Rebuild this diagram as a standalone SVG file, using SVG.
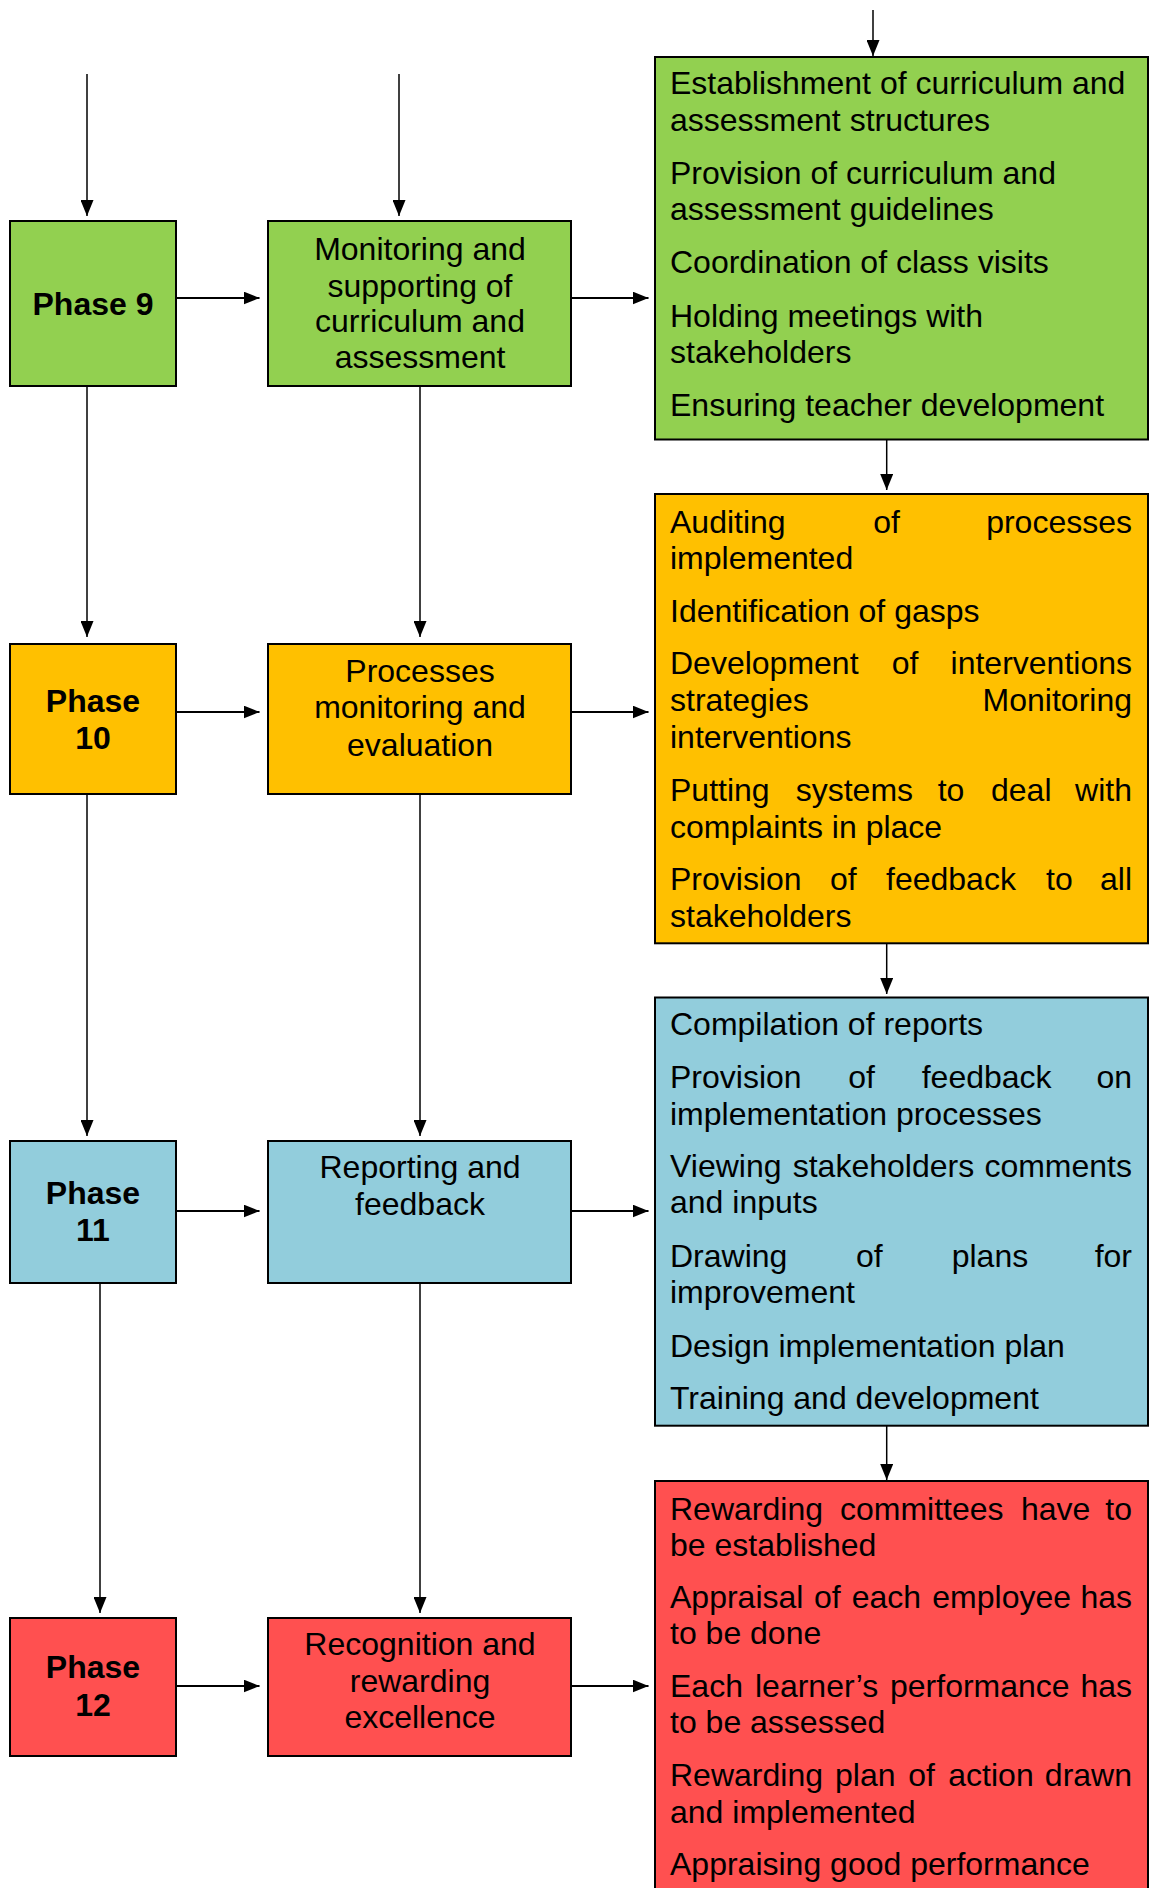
<svg xmlns="http://www.w3.org/2000/svg" width="1149" height="1888" viewBox="0 0 1149 1888">
<style>
.t{font-family:"Liberation Sans",Arial,sans-serif;font-size:32px;fill:#000}
.b{font-weight:bold}
.c{text-anchor:middle}
.e{text-anchor:end}
.box{stroke:#000;stroke-width:2}
.g{fill:#92D050}.o{fill:#FFC000}.bl{fill:#92CDDC}.r{fill:#FF5050}
.v{stroke:#000;stroke-width:1.5;fill:none;marker-end:url(#ah)}
.h{stroke:#000;stroke-width:2.2;fill:none;marker-end:url(#ah)}
</style>
<defs>
<marker id="ah" markerUnits="userSpaceOnUse" markerWidth="16" markerHeight="13" refX="16" refY="6.5" orient="auto">
<path d="M0,0 L16,6.5 L0,13 z" fill="#000"/>
</marker>
</defs>
<rect width="1149" height="1888" fill="#fff"/>
<g id="connectors">
<line class="v" x1="87" y1="74" x2="87" y2="216"/>
<line class="v" x1="399" y1="74" x2="399" y2="216"/>
<line class="v" x1="873" y1="10" x2="873" y2="56"/>
<line class="h" x1="176" y1="298" x2="259.5" y2="298"/>
<line class="h" x1="569" y1="298" x2="648.5" y2="298"/>
<line class="v" x1="87" y1="386" x2="87" y2="637"/>
<line class="v" x1="420" y1="386" x2="420" y2="637"/>
<line class="v" x1="886.7" y1="440" x2="886.7" y2="490"/>
<line class="h" x1="176" y1="712" x2="259.5" y2="712"/>
<line class="h" x1="569" y1="712" x2="648.5" y2="712"/>
<line class="v" x1="87" y1="794" x2="87" y2="1136"/>
<line class="v" x1="420" y1="794" x2="420" y2="1136"/>
<line class="v" x1="886.7" y1="944" x2="886.7" y2="994"/>
<line class="h" x1="176" y1="1211" x2="259.5" y2="1211"/>
<line class="h" x1="569" y1="1211" x2="648.5" y2="1211"/>
<line class="v" x1="100" y1="1283" x2="100" y2="1613"/>
<line class="v" x1="420" y1="1283" x2="420" y2="1613"/>
<line class="v" x1="886.7" y1="1426" x2="886.7" y2="1480"/>
<line class="h" x1="176" y1="1686" x2="259.5" y2="1686"/>
<line class="h" x1="569" y1="1686" x2="648.5" y2="1686"/>
</g>
<g id="phase9">
<rect class="box g" x="10" y="221" width="166" height="165"/>
<text class="t b c" x="93" y="315">Phase 9</text>
</g>
<g id="monitoring">
<rect class="box g" x="268" y="221" width="303" height="165"/>
<text class="t c" x="420" y="260">Monitoring and</text>
<text class="t c" x="420" y="296.5">supporting of</text>
<text class="t c" x="420" y="332">curriculum and</text>
<text class="t c" x="420" y="368.3">assessment</text>
</g>
<g id="tasks9">
<rect class="box g" x="655" y="57" width="493" height="382.5"/>
<text class="t" x="670" y="94.3">Establishment of curriculum and</text>
<text class="t" x="670" y="130.7">assessment structures</text>
<text class="t" x="670" y="184.3">Provision of curriculum and</text>
<text class="t" x="670" y="220">assessment guidelines</text>
<text class="t" x="670" y="272.7">Coordination of class visits</text>
<text class="t" x="670" y="326.7">Holding meetings with</text>
<text class="t" x="670" y="362.7">stakeholders</text>
<text class="t" x="670" y="416">Ensuring teacher development</text>
</g>
<g id="phase10">
<rect class="box o" x="10" y="644" width="166" height="150"/>
<text class="t b c" x="93" y="711.7">Phase</text>
<text class="t b c" x="93" y="749">10</text>
</g>
<g id="processes">
<rect class="box o" x="268" y="644" width="303" height="150"/>
<text class="t c" x="420" y="681.7">Processes</text>
<text class="t c" x="420" y="718.3">monitoring and</text>
<text class="t c" x="420" y="756">evaluation</text>
</g>
<g id="tasks10">
<rect class="box o" x="655" y="494" width="493" height="449.3"/>
<text class="t" x="670" y="533.3">Auditing</text>
<text class="t" x="873.3" y="533.3">of</text>
<text class="t e" x="1132" y="533.3">processes</text>
<text class="t" x="670" y="569.3">implemented</text>
<text class="t" x="670" y="621.7">Identification of gasps</text>
<text class="t" x="670" y="674.3">Development</text>
<text class="t" x="891.7" y="674.3">of</text>
<text class="t e" x="1132" y="674.3">interventions</text>
<text class="t" x="670" y="711">strategies</text>
<text class="t e" x="1132" y="711">Monitoring</text>
<text class="t" x="670" y="748.3">interventions</text>
<text class="t" x="670" y="800.7">Putting</text>
<text class="t" x="795.7" y="800.7">systems</text>
<text class="t" x="937.7" y="800.7">to</text>
<text class="t" x="991" y="800.7">deal</text>
<text class="t e" x="1132" y="800.7">with</text>
<text class="t" x="670" y="837.7">complaints in place</text>
<text class="t" x="670" y="890">Provision</text>
<text class="t" x="830" y="890">of</text>
<text class="t" x="886" y="890">feedback</text>
<text class="t" x="1046" y="890">to</text>
<text class="t e" x="1132" y="890">all</text>
<text class="t" x="670" y="926.7">stakeholders</text>
</g>
<g id="phase11">
<rect class="box bl" x="10" y="1141" width="166" height="142"/>
<text class="t b c" x="93" y="1204">Phase</text>
<text class="t b c" x="93" y="1240.7">11</text>
</g>
<g id="reporting">
<rect class="box bl" x="268" y="1141" width="303" height="142"/>
<text class="t c" x="420" y="1178.3">Reporting and</text>
<text class="t c" x="420" y="1215">feedback</text>
</g>
<g id="tasks11">
<rect class="box bl" x="655" y="997.5" width="493" height="428.2"/>
<text class="t" x="670" y="1035">Compilation of reports</text>
<text class="t" x="670" y="1088.3">Provision</text>
<text class="t" x="848.3" y="1088.3">of</text>
<text class="t" x="921.7" y="1088.3">feedback</text>
<text class="t e" x="1132" y="1088.3">on</text>
<text class="t" x="670" y="1125">implementation processes</text>
<text class="t" x="670" y="1177.3">Viewing</text>
<text class="t" x="792.7" y="1177.3">stakeholders</text>
<text class="t e" x="1132" y="1177.3">comments</text>
<text class="t" x="670" y="1213.3">and inputs</text>
<text class="t" x="670" y="1266.7">Drawing</text>
<text class="t" x="856" y="1266.7">of</text>
<text class="t" x="951.7" y="1266.7">plans</text>
<text class="t e" x="1132" y="1266.7">for</text>
<text class="t" x="670" y="1303.3">improvement</text>
<text class="t" x="670" y="1356.7">Design implementation plan</text>
<text class="t" x="670" y="1409">Training and development</text>
</g>
<g id="phase12">
<rect class="box r" x="10" y="1618" width="166" height="138"/>
<text class="t b c" x="93" y="1678.3">Phase</text>
<text class="t b c" x="93" y="1715.7">12</text>
</g>
<g id="recognition">
<rect class="box r" x="268" y="1618" width="303" height="138"/>
<text class="t c" x="420" y="1655">Recognition and</text>
<text class="t c" x="420" y="1691.7">rewarding</text>
<text class="t c" x="420" y="1728.3">excellence</text>
</g>
<g id="tasks12">
<rect class="box r" x="655" y="1481" width="493" height="430"/>
<text class="t" x="670" y="1520">Rewarding</text>
<text class="t" x="840" y="1520">committees</text>
<text class="t" x="1021" y="1520">have</text>
<text class="t e" x="1132" y="1520">to</text>
<text class="t" x="670" y="1555.7">be established</text>
<text class="t" x="670" y="1608.3">Appraisal</text>
<text class="t" x="814" y="1608.3">of</text>
<text class="t" x="851.7" y="1608.3">each</text>
<text class="t" x="932.3" y="1608.3">employee</text>
<text class="t e" x="1132" y="1608.3">has</text>
<text class="t" x="670" y="1644.3">to be done</text>
<text class="t" x="670" y="1697.3">Each</text>
<text class="t" x="755" y="1697.3">learner’s</text>
<text class="t" x="890" y="1697.3">performance</text>
<text class="t e" x="1132" y="1697.3">has</text>
<text class="t" x="670" y="1733.3">to be assessed</text>
<text class="t" x="670" y="1785.7">Rewarding</text>
<text class="t" x="835" y="1785.7">plan</text>
<text class="t" x="908.3" y="1785.7">of</text>
<text class="t" x="948.3" y="1785.7">action</text>
<text class="t e" x="1132" y="1785.7">drawn</text>
<text class="t" x="670" y="1822.7">and implemented</text>
<text class="t" x="670" y="1875">Appraising good performance</text>
</g>
</svg>
